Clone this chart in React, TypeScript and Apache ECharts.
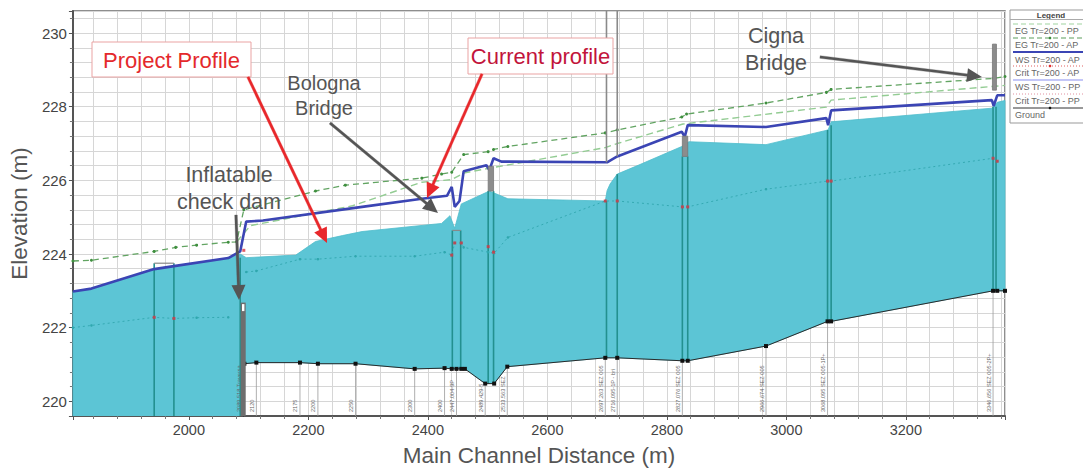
import React, { useEffect, useRef } from "react";
import * as echarts from "echarts";

const FONT = "Liberation Sans, Arial, sans-serif";
const X_MIN = 1806;
const X_MAX = 3366;
const Y_MIN = 219.6;
const Y_MAX = 230.6;

// Water surface, current profile (AP) – blue line
const wsAPX = [1806, 1837, 1942, 1975, 2066, 2086, 2096, 2124, 2290, 2390, 2432, 2440, 2445, 2453, 2460, 2498, 2503, 2510, 2523, 2700, 2717, 2825, 2830, 2835, 2966, 3067, 3070, 3075, 3344, 3347, 3353, 3366];
const wsAPY = [222.98, 223.06, 223.59, 223.67, 223.89, 224.07, 224.88, 224.91, 225.28, 225.5, 225.58, 225.82, 225.28, 225.44, 226.25, 226.41, 226.28, 226.6, 226.51, 226.49, 226.65, 227.32, 227.18, 227.5, 227.45, 227.69, 227.5, 227.9, 228.18, 228.02, 228.31, 228.31];

// Water surface, project profile (PP) – top of cyan fill
const wsPPX = [1806, 1837, 1942, 1975, 2066, 2086, 2096, 2179, 2212, 2257, 2290, 2423, 2437, 2445, 2456, 2503, 2534, 2697, 2700, 2705, 2717, 2755, 2825, 2837, 2966, 3070, 3075, 3344, 3353, 3366];
const wsPPY = [222.98, 223.06, 223.59, 223.67, 223.89, 224.0, 223.9, 223.97, 224.34, 224.5, 224.61, 224.83, 225.04, 224.7, 225.36, 225.71, 225.5, 225.44, 225.72, 225.9, 226.17, 226.43, 226.92, 227.05, 226.97, 227.37, 227.59, 227.96, 228.12, 228.17];

// Ground (channel bottom)
const groundX = [1806, 2091, 2093, 2113, 2186, 2216, 2279, 2378, 2428, 2440, 2448, 2456, 2462, 2496, 2511, 2533, 2697, 2717, 2826, 2835, 2966, 3069, 3075, 3346, 3353, 3366];
const groundY = [219.3, 219.3, 221.02, 221.05, 221.05, 221.02, 221.02, 220.88, 220.9, 220.88, 220.88, 220.88, 220.88, 220.48, 220.48, 220.94, 221.18, 221.18, 221.1, 221.1, 221.5, 222.17, 222.17, 223.0, 223.0, 223.0];

// Energy grade lines
const egAPX = [1806, 1837, 1942, 1978, 2013, 2066, 2080, 2092, 2212, 2262, 2390, 2423, 2440, 2460, 2501, 2510, 2534, 2697, 2717, 2825, 2833, 2966, 3067, 3075, 3347, 3366];
const egAPY = [223.81, 223.83, 224.07, 224.18, 224.24, 224.32, 224.33, 225.2, 225.71, 225.87, 226.06, 226.17, 226.22, 226.7, 226.78, 226.84, 226.92, 227.29, 227.37, 227.72, 227.8, 228.1, 228.39, 228.47, 228.77, 228.82];
const egPPX = [2080, 2103, 2274, 2390, 2440, 2460, 2510, 2697, 2717, 2827, 3067, 3075, 3366];
const egPPY = [224.33, 224.77, 225.31, 225.95, 226.02, 226.2, 226.35, 226.89, 227.0, 227.53, 227.99, 228.18, 228.58];

// Critical depth line (dotted, inside the flow area)
const critX = [1806, 1837, 1942, 1975, 2013, 2066, 2075, 2096, 2113, 2186, 2216, 2279, 2378, 2428, 2440, 2445, 2456, 2460, 2501, 2511, 2534, 2697, 2717, 2826, 2835, 2966, 3069, 3075, 3346, 3353];
const critY: (number | null)[] = [222.0, 222.06, 222.28, 222.25, 222.27, 222.28, null, 223.51, 223.54, 223.86, 223.86, 223.94, 223.94, 224.05, 223.97, 224.3, 224.3, 224.18, 224.05, 224.02, 224.45, 225.44, 225.44, 225.28, 225.28, 225.76, 225.98, 225.98, 226.6, 226.52];
const critRedX = [1942, 1975, 2092, 2440, 2445, 2456, 2501, 2510, 2697, 2717, 2826, 2835, 3069, 3075, 3346, 3353];
const critRedY = [222.28, 222.25, 224.1, 223.97, 224.3, 224.3, 224.2, 224.05, 225.44, 225.44, 225.28, 225.28, 225.98, 225.98, 226.6, 226.52];

// Cross-section vertical lines
const secX = [1942, 1975, 2086, 2441, 2455, 2501, 2510, 2699, 2717, 2826, 2835, 3069, 3075, 3346, 3351];
const secBottom = [219.3, 219.3, 219.3, 220.88, 220.88, 220.48, 220.48, 221.18, 221.18, 221.1, 221.1, 222.17, 222.17, 223.0, 223.0];
const secTop = [223.75, 223.75, 223.9, 224.64, 224.64, 225.71, 225.71, 225.44, 226.17, 226.65, 226.65, 227.37, 227.5, 228.0, 228.0];

// Bridge decks / structures (gray)
const bridgeX1 = [2501, 2826, 3345];
const bridgeX2 = [2510, 2835, 3350];
const bridgeBottom = [225.71, 226.65, 228.45];
const bridgeTop = [226.38, 227.2, 229.7];
const openBridgeX = [2699, 2717];
const openBridgeBottom = [226.49, 226.65];
const boxX1 = [1942, 2441];
const boxX2 = [1975, 2455];
const boxTop = [223.75, 224.64];
const damX = 2091;
const damTop = 222.68;

// Station labels at the bottom
const stationX = [2091, 2113, 2186, 2216, 2279, 2378, 2428, 2448, 2496, 2533, 2697, 2717, 2826, 2966, 3069, 3346];
const stationGround = [221.02, 221.05, 221.05, 221.02, 221.02, 220.88, 220.9, 220.88, 220.48, 220.94, 221.18, 221.18, 221.1, 221.5, 222.17, 223.0];
const stationLabel = ["2089.518 Traversa", "2120", "2175", "2200", "2250", "2300", "2400", "2447.004-9P", "2489.429-5", "2533.563 SEZ", "2697.263 SEZ 005", "2716.095-1P - bri", "2827.076 SEZ 005", "2966.674 SEZ 005", "3068.095 SEZ 005-1P+", "3346.656 SEZ 005-2P+"];

// Legend entries
const legendNames = ["EG Tr=200 - PP", "EG Tr=200 - AP", "WS Tr=200 - AP", "Crit Tr=200 - AP", "WS Tr=200 - PP", "Crit Tr=200 - PP", "Ground"];

const CYAN = "#5cc5d5";
const BLUE = "#3b45b4";
const TEAL = "#23908f";
const GRAY = "#8c8c8c";

function zip(xs: number[], ys: (number | null)[]) {
  return xs.map((x, i) => [x, ys[i] === null ? "-" : ys[i]]);
}

function arrow(x1: number, y1: number, x2: number, y2: number, color: string, w = 2.6): any[] {
  const dx = x2 - x1, dy = y2 - y1;
  const len = Math.sqrt(dx * dx + dy * dy);
  const ux = dx / len, uy = dy / len;
  const nx = -uy, ny = ux;
  const hl = 15, hw = 7, sw = w / 2;
  const bx = x2 - ux * hl, by = y2 - uy * hl;
  return [
    {
      type: "polygon", silent: true, z: 200, zlevel: 0,
      shape: { points: [[x1 + nx * sw, y1 + ny * sw], [bx + nx * sw + ux, by + ny * sw + uy], [bx - nx * sw + ux, by - ny * sw + uy], [x1 - nx * sw, y1 - ny * sw]] },
      style: { fill: color, stroke: color, lineWidth: 0.3 },
    },
    {
      type: "polygon", silent: true, z: 200, zlevel: 0,
      shape: { points: [[x2, y2], [bx + nx * hw, by + ny * hw], [bx - nx * hw, by - ny * hw]] },
      style: { fill: color },
    },
  ];
}

function legendGraphic(): any[] {
  const left = 1010, top = 10, w = 80, h = 113;
  const z = 200;
  const els: any[] = [
    { type: "rect", z, silent: true, shape: { x: left, y: top, width: w, height: h }, style: { fill: "#fff", stroke: "#999", lineWidth: 1 } },
    { type: "text", z: z + 1, silent: true, x: 1051, y: 15, style: { text: "Legend", fontSize: 8, fontWeight: "bold", fill: "#444", align: "center", verticalAlign: "middle", fontFamily: FONT } },
    { type: "line", z: z + 1, silent: true, shape: { x1: left, y1: 19.5, x2: left + w, y2: 19.5 }, style: { stroke: "#aaa", lineWidth: 1 } },
  ];
  const lineY = [24, 38, 52, 66, 80, 94, 108];
  const textY = [30.5, 45, 59.5, 73, 87, 101, 115];
  const styles: any[] = [
    { stroke: "#9fd39f", lineWidth: 1.2, lineDash: [5, 3] },
    { stroke: "#5d9e5d", lineWidth: 1.2, lineDash: [5, 3] },
    { stroke: BLUE, lineWidth: 2.2 },
    { stroke: "#e06060", lineWidth: 1, lineDash: [1, 2] },
    { stroke: "#8a8ff0", lineWidth: 1.2 },
    { stroke: "#e090a0", lineWidth: 1, lineDash: [1, 2] },
    { stroke: "#333", lineWidth: 1 },
  ];
  const dots = ["", "#3c8a3c", "", "#e03030", "", "", "#111"];
  legendNames.forEach((name, i) => {
    els.push({ type: "line", z: z + 1, silent: true, shape: { x1: left + 3, y1: lineY[i], x2: left + w, y2: lineY[i] }, style: styles[i] });
    if (dots[i]) els.push({ type: "circle", z: z + 2, silent: true, shape: { cx: 1050, cy: lineY[i], r: 1.3 }, style: { fill: dots[i] } });
    els.push({ type: "text", z: z + 1, silent: true, x: 1015, y: textY[i], style: { text: name, fontSize: 9, fill: "#666", align: "left", verticalAlign: "middle", fontFamily: FONT } });
  });
  return els;
}

export default function App() {
  const ref = useRef<HTMLDivElement>(null);
  useEffect(() => {
    if (!ref.current) return;
    const chart = echarts.init(ref.current, undefined, { renderer: "svg" });
    const gridColor = "#d6d6d6";
    const option: any = {
      animation: false,
      backgroundColor: "#fff",
      grid: { left: 68, right: 78, top: 11, bottom: 53, show: true, borderColor: "#6a6a6a", borderWidth: 1.5, backgroundColor: "transparent" },
      xAxis: {
        type: "value", min: X_MIN, max: X_MAX, splitNumber: 8, minInterval: 200, maxInterval: 200,
        name: "Main Channel Distance (m)", nameLocation: "middle", nameGap: 28,
        nameTextStyle: { fontSize: 22.5, color: "#555", fontFamily: FONT },
        axisLine: { show: true, lineStyle: { color: "#555", width: 2 } },
        axisTick: { show: true, length: 4, lineStyle: { color: "#555" } },
        minorTick: { show: true, splitNumber: 5, length: 3, lineStyle: { color: "#777" } },
        axisLabel: { fontSize: 14.5, color: "#444", margin: 6, showMinLabel: false, showMaxLabel: false, fontFamily: FONT, formatter: (v: number) => String(v) },
        splitLine: { show: true, lineStyle: { color: gridColor, width: 1 } },
        minorSplitLine: { show: true, lineStyle: { color: gridColor, width: 1 } },
      },
      yAxis: {
        type: "value", min: Y_MIN, max: Y_MAX, splitNumber: 5, minInterval: 2, maxInterval: 2,
        name: "Elevation (m)", nameLocation: "middle", nameGap: 24, nameRotate: 90,
        nameTextStyle: { fontSize: 22.5, color: "#555", fontFamily: FONT },
        axisLine: { show: true, lineStyle: { color: "#555", width: 2 } },
        axisTick: { show: true, length: 4, lineStyle: { color: "#555" } },
        minorTick: { show: true, splitNumber: 5, length: 3, lineStyle: { color: "#777" } },
        axisLabel: { fontSize: 15, color: "#444", margin: 6, showMinLabel: false, showMaxLabel: false, fontFamily: FONT, formatter: (v: number) => String(v) },
        splitLine: { show: true, lineStyle: { color: gridColor, width: 1 } },
        minorSplitLine: { show: true, lineStyle: { color: gridColor, width: 1 } },
      },
      series: [
        {
          type: "custom", name: "WS Tr=200 - PP", coordinateSystem: "cartesian2d", clip: true, silent: true, z: 1,
          data: [[wsPPX[0], wsPPY[0]]],
          renderItem: (_p: any, api: any) => {
            const pts: number[][] = [];
            for (let i = 0; i < wsPPX.length; i++) pts.push(api.coord([wsPPX[i], wsPPY[i]]));
            for (let i = groundX.length - 1; i >= 0; i--) pts.push(api.coord([groundX[i], groundY[i]]));
            return { type: "polygon", shape: { points: pts }, style: { fill: CYAN, stroke: "#4fbccc", lineWidth: 0.8 } };
          },
        },
        {
          type: "custom", name: "stations", coordinateSystem: "cartesian2d", clip: true, silent: true, z: 2,
          data: stationX.map((x, i) => [x, stationGround[i], i]),
          renderItem: (_p: any, api: any) => {
            const i = api.value(2);
            const a = api.coord([api.value(0), api.value(1)]);
            const b = api.coord([api.value(0), Y_MIN]);
            return {
              type: "group",
              children: [
                { type: "line", shape: { x1: a[0], y1: a[1], x2: b[0], y2: b[1] }, style: { stroke: "#9a9a9a", lineWidth: 0.8 } },
                { type: "text", x: a[0] - 1.5, y: b[1] - 4, rotation: Math.PI / 2, style: { text: stationLabel[i], fontSize: 5.6, fill: "#666", align: "left", verticalAlign: "bottom", fontFamily: FONT } },
              ],
            };
          },
        },
        {
          type: "custom", name: "sections", coordinateSystem: "cartesian2d", clip: true, silent: true, z: 3,
          data: secX.map((x, i) => [x, secBottom[i], secTop[i]]),
          encode: { x: 0, y: [1, 2] },
          renderItem: (_p: any, api: any) => {
            const a = api.coord([api.value(0), api.value(1)]);
            const b = api.coord([api.value(0), api.value(2)]);
            return { type: "line", shape: { x1: a[0], y1: a[1], x2: b[0], y2: b[1] }, style: { stroke: TEAL, lineWidth: 1.6 } };
          },
        },
        {
          type: "custom", name: "boxes", coordinateSystem: "cartesian2d", clip: true, silent: true, z: 3,
          data: boxX1.map((x, i) => [x, boxX2[i], boxTop[i]]),
          encode: { x: [0, 1], y: 2 },
          renderItem: (_p: any, api: any) => {
            const a = api.coord([api.value(0), api.value(2)]);
            const b = api.coord([api.value(1), api.value(2)]);
            return { type: "line", shape: { x1: a[0], y1: a[1], x2: b[0], y2: b[1] }, style: { stroke: "#888", lineWidth: 1.2 } };
          },
        },
        {
          type: "line", name: "Crit Tr=200 - PP", data: zip(critX, critY), z: 4, silent: true,
          symbol: "circle", symbolSize: 2.5, showSymbol: true, connectNulls: false,
          itemStyle: { color: "#2fa7ae" },
          lineStyle: { color: "#35a9b2", width: 1, type: [2, 3] },
        },
        {
          type: "scatter", name: "Crit Tr=200 - AP", data: zip(critRedX, critRedY), z: 5, silent: true,
          symbol: "rect", symbolSize: 3, itemStyle: { color: "#d8333f" },
        },
        {
          type: "line", name: "Ground", data: zip(groundX, groundY), z: 5, silent: true,
          symbol: "rect", symbolSize: 4, itemStyle: { color: "#111" },
          lineStyle: { color: "#2a2a2a", width: 1 },
        },
        {
          type: "line", name: "EG Tr=200 - PP", data: zip(egPPX, egPPY), z: 5, silent: true,
          symbol: "none",
          lineStyle: { color: "#93cc93", width: 1.4, type: [7, 4] },
        },
        {
          type: "line", name: "EG Tr=200 - AP", data: zip(egAPX, egAPY), z: 5, silent: true,
          symbol: "circle", symbolSize: 3,
          itemStyle: { color: "#3f8f3f" },
          lineStyle: { color: "#62a462", width: 1.3, type: [6, 4] },
        },
        {
          type: "line", name: "WS Tr=200 - AP", data: zip(wsAPX, wsAPY), z: 6, silent: true,
          symbol: "none",
          lineStyle: { color: BLUE, width: 2.6 },
        },
        {
          type: "custom", name: "bridges", coordinateSystem: "cartesian2d", clip: true, silent: true, z: 7,
          data: bridgeX1.map((x, i) => [x, bridgeX2[i], bridgeBottom[i], bridgeTop[i]]),
          encode: { x: [0, 1], y: [2, 3] },
          renderItem: (_p: any, api: any) => {
            const a = api.coord([api.value(0), api.value(3)]);
            const b = api.coord([api.value(1), api.value(2)]);
            const w = Math.max(b[0] - a[0], 4);
            return { type: "rect", shape: { x: a[0], y: a[1], width: w, height: b[1] - a[1] }, style: { fill: GRAY, stroke: "#777", lineWidth: 0.8 } };
          },
        },
        {
          type: "custom", name: "openBridge", coordinateSystem: "cartesian2d", clip: true, silent: true, z: 7,
          data: openBridgeX.map((x, i) => [x, openBridgeBottom[i]]),
          renderItem: (_p: any, api: any) => {
            const a = api.coord([api.value(0), api.value(1)]);
            const b = api.coord([api.value(0), Y_MAX]);
            return { type: "line", shape: { x1: a[0], y1: a[1], x2: b[0], y2: b[1] }, style: { stroke: "#8a8a8a", lineWidth: 1.6 } };
          },
        },
        {
          type: "custom", name: "dam", coordinateSystem: "cartesian2d", clip: true, silent: true, z: 8,
          data: [[damX, damTop]],
          renderItem: (_p: any, api: any) => {
            const t = api.coord([api.value(0), api.value(1)]);
            const b = api.coord([api.value(0), Y_MIN]);
            return {
              type: "group",
              children: [
                { type: "rect", shape: { x: t[0] - 2.5, y: t[1], width: 5, height: b[1] - t[1] }, style: { fill: "#6e6e6e" } },
                { type: "rect", shape: { x: t[0] - 1.2, y: t[1] + 1.5, width: 2.4, height: 7 }, style: { fill: "#fff" } },
              ],
            };
          },
        },
      ],
      graphic: {
        elements: [
          ...legendGraphic(),
          { type: "rect", silent: true, z: 200, shape: { x: 92, y: 42, width: 159, height: 35 }, style: { fill: "#fff", stroke: "#eaa3a3", lineWidth: 1 } },
          { type: "text", silent: true, z: 201, x: 171.5, y: 60, style: { text: "Project Profile", fontSize: 22, fill: "#e4292c", align: "center", verticalAlign: "middle", fontFamily: FONT } },
          { type: "rect", silent: true, z: 200, shape: { x: 468, y: 38, width: 145, height: 36 }, style: { fill: "#fff", stroke: "#eaa3a3", lineWidth: 1 } },
          { type: "text", silent: true, z: 201, x: 540.5, y: 56.5, style: { text: "Current profile", fontSize: 22, fill: "#c2143b", align: "center", verticalAlign: "middle", fontFamily: FONT } },
          { type: "text", silent: true, z: 201, x: 324, y: 95, style: { text: "Bologna\nBridge", fontSize: 20, lineHeight: 25, fill: "#555", align: "center", verticalAlign: "middle", fontFamily: FONT } },
          { type: "text", silent: true, z: 201, x: 229, y: 188.5, style: { text: "Inflatable\ncheck dam", fontSize: 21.5, lineHeight: 27, fill: "#555", align: "center", verticalAlign: "middle", fontFamily: FONT } },
          { type: "text", silent: true, z: 201, x: 776, y: 49.5, style: { text: "Cigna\nBridge", fontSize: 21.5, lineHeight: 27, fill: "#555", align: "center", verticalAlign: "middle", fontFamily: FONT } },
          ...arrow(248, 77, 327, 243, "#e8282b"),
          ...arrow(482, 74, 427, 198, "#e8282b"),
          ...arrow(330, 123, 438, 213, "#555"),
          ...arrow(236, 215, 239, 300, "#555"),
          ...arrow(820, 57, 982, 77, "#555"),
        ],
      },
    };
    chart.setOption(option);
    return () => chart.dispose();
  }, []);
  return (
    <div
      ref={ref}
      style={{ position: "absolute", left: 0, top: 0, width: 1083, height: 472, background: "#fff" }}
    />
  );
}
